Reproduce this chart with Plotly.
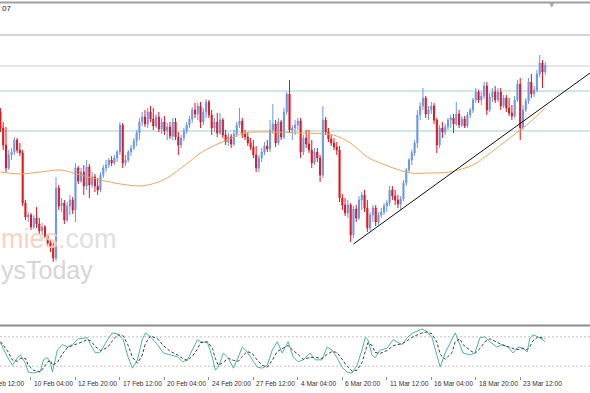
import plotly.graph_objects as go

# ---------------- data (4H candles, price in chart units) ----------------
opens = [218,202,185,162,175,178,190,180,177,127,
         113,115,103,112,106,99,103,94,87,83,
         72,142,124,127,110,124,130,120,162,149,
         158,144,163,145,153,144,140,155,162,165,
         170,167,172,178,205,167,170,178,182,189,
         197,208,213,206,218,211,204,213,201,208,
         199,203,194,208,193,185,192,199,205,211,
         220,216,224,208,218,228,215,202,208,197,
         210,195,188,193,186,196,205,209,196,193,
         187,183,175,162,172,178,184,181,200,206,
         187,208,193,218,236,200,202,205,209,178,
         192,186,180,167,178,172,155,210,198,191,
         187,183,180,132,125,117,125,95,121,112,
         130,135,122,102,115,122,108,115,118,124,
         127,140,134,130,126,131,147,160,170,177,
         187,215,224,232,216,220,224,210,185,202,
         198,203,210,212,206,216,205,211,204,215,
         220,230,238,230,234,244,220,233,238,230,
         238,224,232,222,217,214,230,246,202,220,
         229,248,236,240,256,267,258]
highs = [222,208,203,180,182,193,192,187,180,130,
         118,117,115,123,112,107,105,96,90,87,
         153,145,132,130,128,135,133,167,164,162,
         165,170,166,158,156,152,158,165,170,172,
         174,175,180,208,207,175,180,185,192,200,
         212,218,220,222,224,222,216,218,212,214,
         207,208,212,212,198,195,202,208,214,223,
         227,227,228,222,231,230,220,212,217,217,
         212,200,197,196,200,208,222,212,200,197,
         192,190,184,175,182,188,190,210,226,210,
         212,210,222,238,250,205,210,212,212,195,
         200,200,190,182,182,175,224,213,202,195,
         192,188,184,136,132,130,127,124,125,134,
         138,140,130,118,125,125,118,122,127,130,
         144,144,140,135,134,150,162,172,180,190,
         220,228,242,234,224,228,227,212,205,208,
         206,212,215,216,228,220,214,214,218,222,
         232,242,240,238,248,248,237,242,244,242,
         242,235,235,232,225,234,250,252,225,232,
         252,256,244,260,275,270,268]
lows = [198,180,158,160,170,175,177,174,124,110,
        108,100,101,102,96,95,92,84,78,68,
        69,120,118,106,108,115,116,108,146,147,
        135,140,132,142,138,135,138,152,158,162,
        164,165,168,175,162,164,168,174,180,184,
        190,204,203,202,208,200,202,198,196,195,
        190,191,190,190,175,182,189,196,202,207,
        212,210,202,205,212,212,195,198,193,195,
        192,185,184,182,184,193,202,192,190,184,
        180,172,158,158,168,175,178,178,196,183,
        185,190,191,215,197,190,195,200,172,175,
        182,177,162,165,168,148,152,195,188,184,
        180,175,128,120,114,112,88,92,108,110,
        120,118,98,99,108,104,105,112,115,118,
        124,130,125,122,120,129,144,157,165,174,
        182,210,220,212,210,216,206,177,182,192,
        195,200,202,197,204,202,203,202,202,212,
        217,227,227,225,231,215,218,228,227,228,
        220,222,218,214,210,212,228,190,200,218,
        226,232,233,238,253,242,255]
closes = [202,185,162,175,178,190,180,177,127,113,
          115,103,112,106,99,103,94,87,83,72,
          142,124,127,110,124,130,120,162,149,158,
          144,163,145,153,144,140,155,162,165,170,
          167,172,178,205,167,170,178,182,189,197,
          208,213,206,218,211,204,213,201,208,199,
          203,194,208,193,185,192,199,205,211,220,
          216,224,208,218,228,215,202,208,197,210,
          195,188,193,186,196,205,209,196,193,187,
          183,175,162,172,178,184,181,200,206,187,
          208,193,218,236,200,202,205,209,178,192,
          186,180,167,178,172,155,210,198,191,187,
          183,180,132,125,117,125,95,121,112,130,
          135,122,102,115,122,108,115,118,124,127,
          140,134,130,126,131,147,160,170,177,187,
          215,224,232,216,220,224,210,185,202,198,
          203,210,212,206,216,205,211,204,215,220,
          230,238,230,234,244,220,233,238,230,238,
          224,232,222,217,214,230,246,202,220,229,
          248,236,240,256,267,258,265]
candle_idx = list(range(len(closes)))

# moving average (candle index, value)
ma_idx = [0, 7.2, 14.4, 21.6, 28.8, 36, 43.2, 50.4, 55.8, 60, 66.5, 72, 77.3, 81.7,
          87.4, 97.1, 107.9, 119.8, 125.9, 132, 140.3, 147.5, 154.5, 161.8, 170,
          176.2, 182.3, 187, 190.5, 196]
ma_val = [158, 156, 158, 160, 155, 150, 146, 144, 147, 152, 165, 177, 185, 190,
          197, 198, 197, 195, 187, 173, 163, 157, 157, 158, 165,
          177, 190, 200, 208, 222]

# horizontal levels and trend line
level_vals = [295, 264, 239, 199]
trend_idx = [127.0, 212.1]
trend_val = [86, 257]

# stochastic oscillator (candle index, %K, %D)
stoch_idx = [0.0, 2.5, 4.3, 6.1, 7.2, 9.0, 10.0, 11.9, 14.4, 15.5,
             16.9, 18.0, 18.7, 20.5, 22.3, 24.1, 25.9, 28.0, 31.3, 32.4,
             34.2, 36.0, 38.5, 40.3, 42.1, 44.2, 46.0, 47.5, 49.3, 51.0,
             52.2, 54.0, 56.5, 58.6, 61.2, 63.7, 65.5, 67.3, 69.0, 70.9,
             72.0, 74.5, 76.3, 77.3, 78.4, 80.2, 82.0, 83.8, 85.6, 87.0,
             88.8, 90.6, 92.4, 94.2, 96.0, 97.8, 99.6, 101.4, 103.5, 105.3,
             107.1, 108.9, 111.4, 113.2, 115.7, 117.5, 119.3, 121.1, 122.9, 124.7,
             126.5, 128.3, 130.1, 131.2, 132.2, 133.7, 134.8, 136.6, 139.1, 141.3,
             144.5, 146.3, 148.4, 151.7, 153.5, 155.3, 157.1, 158.2, 160.0, 162.5,
             163.6, 165.3, 166.4, 169.0, 170.7, 172.5, 174.3, 176.1, 178.6, 180.4,
             182.6, 184.4, 186.2, 188.0, 189.5, 190.5, 191.6, 193.4, 196.0]
stoch_k = [68, 39, 22, 37, 43, 26, 8, 6, 10, 33,
           37, 26, 8, 53, 64, 59, 64, 76, 78, 64,
           47, 49, 74, 88, 86, 74, 37, 16, 33, 74,
           88, 80, 64, 47, 43, 39, 29, 33, 53, 74,
           70, 68, 37, 12, 18, 47, 37, 16, 39, 59,
           49, 33, 18, 16, 22, 53, 70, 47, 70, 39,
           29, 33, 47, 33, 33, 59, 53, 37, 18, 8,
           6, 22, 53, 78, 74, 43, 37, 53, 57, 74,
           64, 78, 88, 96, 90, 78, 43, 18, 47, 78,
           88, 64, 47, 43, 47, 78, 80, 70, 59, 64,
           59, 47, 59, 57, 49, 78, 84, 80, 70]
stoch_d = [70, 52, 33, 30, 36, 36, 22, 12, 8, 18,
           28, 32, 22, 28, 45, 58, 62, 67, 74, 72,
           60, 52, 58, 72, 84, 82, 62, 38, 26, 42,
           67, 82, 76, 62, 50, 43, 36, 32, 40, 55,
           68, 70, 56, 36, 22, 28, 36, 32, 30, 40,
           50, 46, 32, 22, 18, 32, 50, 56, 62, 52,
           44, 34, 38, 38, 36, 44, 50, 48, 34, 20,
           10, 12, 28, 52, 68, 62, 48, 46, 52, 62,
           66, 72, 80, 88, 90, 86, 68, 44, 34, 48,
           70, 76, 64, 52, 46, 56, 70, 76, 68, 64,
           60, 56, 54, 56, 54, 60, 72, 80, 76]
stoch_levels = [80, 20]

# time axis labels (candle index of each label)
tick_idx = [11, 27, 43, 59, 75, 91, 107, 123, 139, 155, 171, 187]
tick_text = ["10 Feb 04:00", "12 Feb 20:00", "17 Feb 12:00", "20 Feb 04:00",
             "24 Feb 20:00", "27 Feb 12:00", "4 Mar 04:00", "6 Mar 20:00",
             "11 Mar 12:00", "16 Mar 04:00", "18 Mar 20:00", "23 Mar 12:00"]
first_tick_idx = -5
first_tick_text = "5 Feb 12:00"

# ---------------- figure ----------------
W, H = 590, 393
MB = 17
PH = H - MB
X_RANGE = [-0.15, 212.1]

def py(pix):
    """pixel row (from top of page) -> paper y"""
    return (PH - pix) / PH

fig = go.Figure()

fig.add_trace(go.Candlestick(
    x=candle_idx, open=opens, high=highs, low=lows, close=closes,
    increasing=dict(line=dict(color="#6a98e6", width=1), fillcolor="#6a98e6"),
    decreasing=dict(line=dict(color="#e3141e", width=1), fillcolor="#e3141e"),
    whiskerwidth=0, xaxis="x", yaxis="y", hoverinfo="skip", showlegend=False))

fig.add_trace(go.Scatter(x=ma_idx, y=ma_val, mode="lines",
                         line=dict(color="#e8a85c", width=1, shape="spline", smoothing=0.8),
                         xaxis="x", yaxis="y", showlegend=False, hoverinfo="skip"))

fig.add_trace(go.Scatter(x=trend_idx, y=trend_val, mode="lines",
                         line=dict(color="#101010", width=1),
                         xaxis="x", yaxis="y", showlegend=False, hoverinfo="skip"))

fig.add_trace(go.Scatter(x=stoch_idx, y=stoch_k, mode="lines",
                         line=dict(color="#4fb3a9", width=1),
                         xaxis="x2", yaxis="y2", showlegend=False, hoverinfo="skip"))
fig.add_trace(go.Scatter(x=stoch_idx, y=stoch_d, mode="lines",
                         line=dict(color="#404040", width=1, dash="3px,2px"),
                         xaxis="x2", yaxis="y2", showlegend=False, hoverinfo="skip"))

level_colors = ["#c9a0b4", "#cfc9cf", "#9fd3c4", "#9fd3c4"]
shapes = []
for v, c in zip(level_vals, level_colors):
    shapes.append(dict(type="line", xref="paper", x0=0, x1=1, yref="y", y0=v, y1=v,
                       line=dict(color=c, width=1), layer="below"))
for v in stoch_levels:
    shapes.append(dict(type="line", xref="paper", x0=0, x1=1, yref="y2", y0=v, y1=v,
                       line=dict(color="#c4c4c4", width=1, dash="2px,2px"), layer="below"))
shapes.append(dict(type="line", xref="paper", x0=0, x1=1, yref="paper", y0=py(2.5), y1=py(2.5),
                   line=dict(color="#a0a0a0", width=2)))
shapes.append(dict(type="line", xref="paper", x0=0, x1=1, yref="paper", y0=py(325.5), y1=py(325.5),
                   line=dict(color="#8a8a8a", width=2)))

lab_font = dict(family="Liberation Sans", size=6.6, color="#303030")
annotations = []
for i, t in zip(tick_idx, tick_text):
    annotations.append(dict(x=i + 0.3, xref="x2", y=py(383), yref="paper", text=t,
                            showarrow=False, xanchor="left", yanchor="middle", font=lab_font))
annotations.append(dict(x=(first_tick_idx + 0.3 - X_RANGE[0]) / (X_RANGE[1] - X_RANGE[0]),
                        xref="paper", y=py(383), yref="paper", text=first_tick_text,
                        showarrow=False, xanchor="left", yanchor="middle", font=lab_font))
annotations.append(dict(x=0, xref="paper", y=py(9), yref="paper", text="07",
                        showarrow=False, xanchor="left", yanchor="middle",
                        font=dict(family="Liberation Sans", size=8, color="#202020")))
annotations.append(dict(x=552 / W, xref="paper", y=py(5), yref="paper", text="▼",
                        showarrow=False, xanchor="center", yanchor="middle",
                        font=dict(family="DejaVu Sans", size=7, color="#a8a8a8")))
annotations.append(dict(x=-0.002, xref="paper", y=py(239), yref="paper",
                        text="<span style='color:#f6cdb8'>mies</span><span style='color:#dcdcdc'>.com</span>",
                        showarrow=False, xanchor="left", yanchor="middle", opacity=0.85,
                        font=dict(family="Liberation Sans", size=27)))
annotations.append(dict(x=-0.002, xref="paper", y=py(270), yref="paper", text="ysToday",
                        showarrow=False, xanchor="left", yanchor="middle", opacity=0.85,
                        font=dict(family="Liberation Sans", size=25, color="#d0d0d0")))

fig.update_layout(
    width=W, height=H,
    margin=dict(l=0, r=0, t=0, b=MB),
    paper_bgcolor="white", plot_bgcolor="white",
    boxgap=0.45,
    xaxis=dict(domain=[0, 1], range=X_RANGE, anchor="y", showgrid=False, zeroline=False,
               showticklabels=False, ticks="", showline=False, rangeslider=dict(visible=False)),
    yaxis=dict(domain=[py(324), py(4)], range=[6, 326], showgrid=False, zeroline=False,
               showticklabels=False, ticks="", showline=False),
    xaxis2=dict(domain=[0, 1], range=X_RANGE, anchor="y2", matches="x", showgrid=False,
                zeroline=False, showticklabels=False, ticks="outside", ticklen=3,
                tickcolor="#909090", tickvals=tick_idx, showline=False),
    yaxis2=dict(domain=[0, py(327)], range=[0, 100], showgrid=False, zeroline=False,
                showticklabels=False, ticks="", showline=False),
    shapes=shapes, annotations=annotations, showlegend=False,
)

fig.write_html("out.html")
